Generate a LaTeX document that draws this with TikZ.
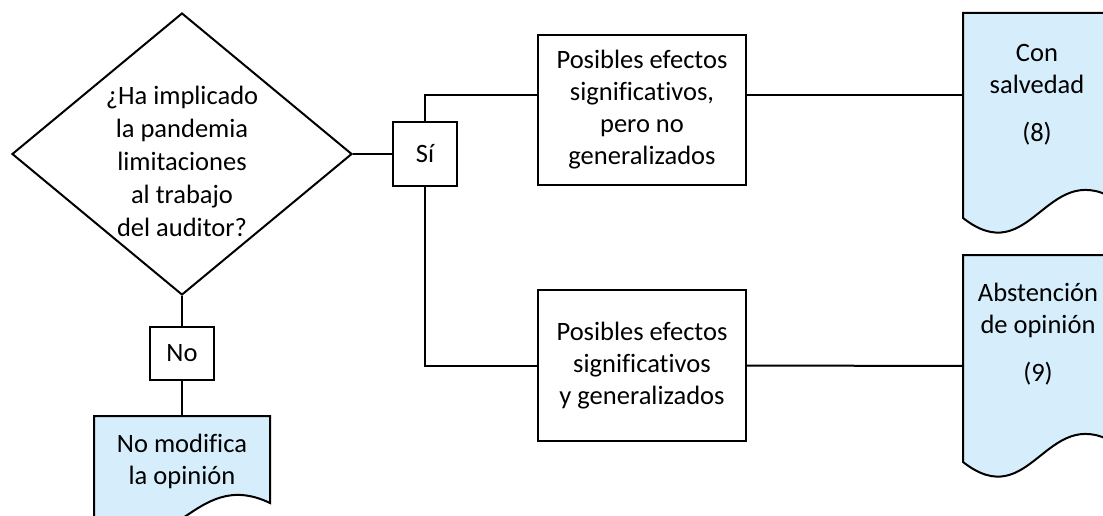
\documentclass[tikz,border=0pt]{standalone}
\usepackage{fontspec}
\setmainfont{Carlito}[Ligatures=NoCommon]
\usetikzlibrary{shapes.geometric}
\definecolor{docblue}{RGB}{214,238,251}
\begin{document}
\begin{tikzpicture}[x=1pt,y=-1pt,line width=2pt,
  box/.style={draw,rectangle,inner sep=0pt,align=center,font=\fontsize{26.5}{32}\selectfont},
  txt/.style={align=center,inner sep=0pt,font=\fontsize{26.5}{32}\selectfont},
  doc/.style={draw,fill=docblue},
  link/.style={draw}]
\useasboundingbox (0,0) rectangle (1103,516);
\begin{scope}
\clip (0,0) rectangle (1103,516);
% decision
\node[diamond,draw,minimum width=340pt,minimum height=282pt,inner sep=0pt] (q) at (182,154) {};
\node[txt,font=\fontsize{26.5}{33}\selectfont] (qt) at (182,161) {¿Ha implicado\\la pandemia\\limitaciones\\al trabajo\\del auditor?};
% boxes
\node[box,minimum width=64pt,minimum height=64pt] (si) at (425,154) {Sí};
\node[box,minimum width=208pt,minimum height=150pt] (b1) at (642,110) {Posibles efectos\\significativos,\\pero no\\generalizados};
\node[box,minimum width=208pt,minimum height=151pt] (b2) at (642,365.5) {Posibles efectos\\significativos\\y generalizados};
\node[box,minimum width=64pt,minimum height=53pt] (no) at (182,353.5) {No};
% documents
\path[doc] (963,13) -- (963,218) .. controls (1030.5,271) and (1045.5,160) .. (1113,198) -- (1113,13) -- cycle;
\path[doc] (963,255) -- (963,462) .. controls (1030.5,515) and (1045.5,404) .. (1113,442) -- (1113,255) -- cycle;
\path[doc] (94,416) -- (94,523) .. controls (173,576) and (191,465) .. (270,503) -- (270,416) -- cycle;
\node[txt,anchor=north] (d1) at (1037,43) {Con\\salvedad\\[16pt](8)};
\node[txt,anchor=north] (d2) at (1038,282) {Abstención\\de opinión\\[16pt](9)};
\node[txt,anchor=north] (d3) at (182,433) {No modifica\\la opinión};
\coordinate (d1in) at (963,95);
\coordinate (d2in) at (963,366);
\coordinate (d3in) at (182,416);
% connectors
\draw[link] (q.east) -- (si.west);
\draw[link] (si.north) |- ([yshift=15pt]b1.west);
\draw[link] (si.south) |- (b2.west);
\draw[link] ([yshift=15pt]b1.east) -- (d1in);
\draw[link] (b2.east) -- (d2in);
\draw[link] (q.south) -- (no.north);
\draw[link] (no.south) -- (d3in);
\end{scope}
\end{tikzpicture}
\end{document}
